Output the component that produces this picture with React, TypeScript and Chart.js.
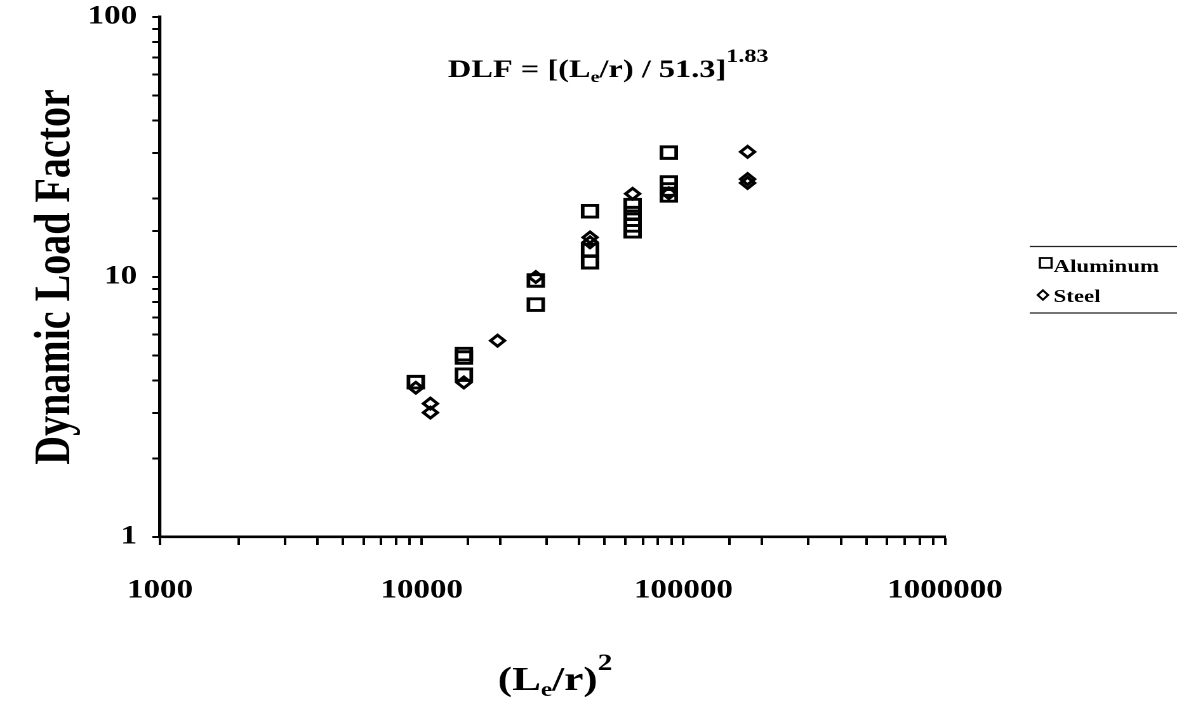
import { useEffect, useRef } from 'react';
import { Chart, registerables } from 'chart.js';

Chart.register(...registerables);

// ---- data ----
const aluminumX = [9500, 14500, 14500, 14500, 27300, 27300, 44000, 44000, 44000, 64000, 64000, 64000, 64000, 64000, 88000, 88000, 88000, 88000];
const aluminumY = [3.94, 5.05, 4.9, 4.21, 7.83, 9.7, 11.4, 12.7, 17.9, 18.9, 17.6, 16.6, 15.8, 15.0, 30.1, 23.1, 21.7, 20.6];
const steelX = [9500, 10800, 10800, 14500, 19500, 27300, 44000, 44000, 64000, 88000, 176000, 176000, 176000];
const steelY = [3.75, 3.26, 3.01, 3.93, 5.69, 10.0, 14.2, 13.6, 20.9, 21.0, 30.3, 23.8, 23.0];
const xTickLabels = [1000, 10000, 100000, 1000000];
const yTickLabels = [1, 10, 100];
const seriesNames = ['Aluminum', 'Steel'];
const yTitle = 'Dynamic Load Factor';

// ---- layout (internal canvas units; the canvas is stretched horizontally like the scan) ----
const W = 927;
const H = 703;
const CSS_W = 1177;
const FAMILY = "'Liberation Serif', 'Times New Roman', serif";

function isLabel(v: number, list: number[]) {
  return list.some((l) => Math.abs(Math.log10(v) - Math.log10(l)) < 1e-6);
}

type Part = { t: string; size: number; dy: number };
function drawRich(ctx: CanvasRenderingContext2D, x: number, y: number, parts: Part[], weight: string) {
  let cx = x;
  for (const p of parts) {
    ctx.font = `${weight} ${p.size}px ${FAMILY}`;
    ctx.fillText(p.t, cx, y + p.dy);
    cx += ctx.measureText(p.t).width;
  }
}

const textPlugin = {
  id: 'textPlugin',
  afterDraw(chart: any) {
    const ctx: CanvasRenderingContext2D = chart.ctx;
    ctx.save();
    ctx.fillStyle = '#000';
    ctx.textBaseline = 'alphabetic';
    ctx.textAlign = 'left';
    // formula annotation
    drawRich(ctx, 352.8, 77, [
      { t: 'DLF = [(L', size: 25.5, dy: 0 },
      { t: 'e', size: 16, dy: 5 },
      { t: '/r) / 51.3]', size: 25.5, dy: 0 },
      { t: '1.83', size: 19, dy: -15 },
    ], 'bold');
    // x axis title
    drawRich(ctx, 392, 690, [
      { t: '(L', size: 34, dy: 0 },
      { t: 'e', size: 20, dy: 6 },
      { t: '/r)', size: 34, dy: 0 },
      { t: '2', size: 23, dy: -20 },
    ], 'bold');
    // legend
    ctx.strokeStyle = '#222';
    ctx.lineWidth = 1.2;
    ctx.beginPath();
    ctx.moveTo(811, 246.5);
    ctx.lineTo(W, 246.5);
    ctx.moveTo(811, 313);
    ctx.lineTo(W, 313);
    ctx.stroke();
    ctx.strokeStyle = '#000';
    ctx.lineWidth = 1.8;
    ctx.strokeRect(819, 258, 9.2, 9.8);
    ctx.beginPath();
    ctx.moveTo(821.4, 290.3);
    ctx.lineTo(825.5, 295);
    ctx.lineTo(821.4, 299.7);
    ctx.lineTo(817.3, 295);
    ctx.closePath();
    ctx.stroke();
    ctx.font = `bold 18px ${FAMILY}`;
    ctx.fillText(seriesNames[0], 829.8, 272);
    ctx.fillText(seriesNames[1], 829.8, 302);
    ctx.restore();
  },
};

export default function App() {
  const ref = useRef<HTMLCanvasElement | null>(null);
  useEffect(() => {
    if (!ref.current) return;
    const tickFont = { family: FAMILY, size: 26, weight: 'bold' as const };
    const chart = new Chart(ref.current, {
      type: 'scatter',
      data: {
        datasets: [
          {
            label: seriesNames[0],
            data: aluminumX.map((x, i) => ({ x, y: aluminumY[i] })),
            pointStyle: 'rect',
            pointRadius: 8.2,
            pointHoverRadius: 8.2,
            borderColor: '#000',
            backgroundColor: 'rgba(0,0,0,0)',
            borderWidth: 2.9,
          },
          {
            label: seriesNames[1],
            data: steelX.map((x, i) => ({ x, y: steelY[i] })),
            pointStyle: 'rectRot',
            pointRadius: 5.5,
            pointHoverRadius: 5.5,
            borderColor: '#000',
            backgroundColor: 'rgba(0,0,0,0)',
            borderWidth: 2.7,
          },
        ],
      },
      options: {
        responsive: false,
        animation: false,
        devicePixelRatio: 2,
        layout: { padding: { top: 17, right: 182.7, bottom: 0, left: 0 } },
        plugins: { legend: { display: false }, tooltip: { enabled: false } },
        scales: {
          x: {
            type: 'logarithmic',
            position: 'bottom',
            min: 1000,
            max: 1000000,
            afterFit: (s: any) => {
              s.height = 166;
            },
            grid: { display: true, drawOnChartArea: false, drawTicks: true, tickLength: 8, tickWidth: 2, tickColor: '#000', color: '#000' },
            border: { display: true, color: '#000', width: 2.6 },
            ticks: {
              autoSkip: false,
              maxRotation: 0,
              minRotation: 0,
              padding: 30,
              color: '#000',
              font: tickFont,
              callback: (v: any) => (isLabel(Number(v), xTickLabels) ? String(Number(v)) : ''),
            },
          },
          y: {
            type: 'logarithmic',
            position: 'left',
            min: 1,
            max: 100,
            afterFit: (s: any) => {
              s.width = 126;
              s.paddingTop = 0;
              s.paddingBottom = 0;
            },
            grid: { display: true, drawOnChartArea: false, drawTicks: true, tickLength: 6, tickWidth: 2, tickColor: '#000', color: '#000' },
            border: { display: true, color: '#000', width: 2.6 },
            ticks: {
              autoSkip: false,
              padding: 12,
              color: '#000',
              font: tickFont,
              callback: (v: any) => (isLabel(Number(v), yTickLabels) ? String(Number(v)) : ''),
            },
            title: {
              display: true,
              text: yTitle,
              color: '#000',
              font: { family: FAMILY, size: 40, weight: 'bold' },
              padding: { top: 20, bottom: 0 },
            },
          },
        },
      } as any,
      plugins: [textPlugin],
    });
    return () => chart.destroy();
  }, []);
  return (
    <div style={{ position: 'absolute', left: 0, top: 0, width: CSS_W, height: H, background: '#fff' }}>
      <canvas ref={ref} width={W} height={H} style={{ width: `${CSS_W}px`, height: `${H}px`, display: 'block' }} />
    </div>
  );
}
